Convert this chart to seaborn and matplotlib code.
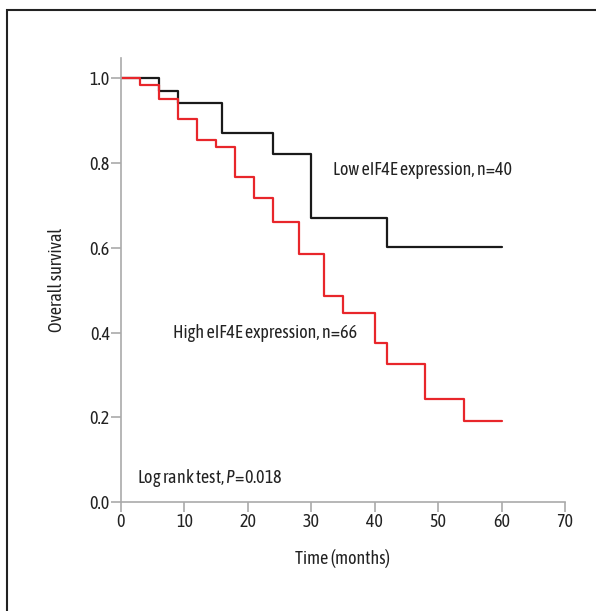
import pandas as pd
import matplotlib.pyplot as plt
import seaborn as sns
from matplotlib.patches import Rectangle

# Kaplan-Meier steps (time in months, survival)
low_time = [0, 6, 9, 16, 24, 30, 42, 60]
low_surv = [1.0, 0.970, 0.942, 0.871, 0.822, 0.669, 0.602, 0.602]

high_time = [0, 3, 6, 9, 12, 15, 18, 21, 24, 28, 32, 35, 40, 42, 48, 54, 60]
high_surv = [1.0, 0.983, 0.950, 0.903, 0.854, 0.838, 0.767, 0.716, 0.660,
             0.585, 0.487, 0.447, 0.376, 0.325, 0.243, 0.191, 0.191]

groups = ["Low", "High"]
x_ticks = [0, 10, 20, 30, 40, 50, 60, 70]
y_ticks = [0.0, 0.2, 0.4, 0.6, 0.8, 1.0]

df = pd.concat([
    pd.DataFrame({"time": low_time, "surv": low_surv, "group": groups[0]}),
    pd.DataFrame({"time": high_time, "surv": high_surv, "group": groups[1]}),
])

sns.set_theme(style="white")
plt.rcParams["font.family"] = ["Asap Condensed", "DejaVu Sans"]
plt.rcParams["mathtext.fontset"] = "custom"
plt.rcParams["mathtext.rm"] = "Asap Condensed"
plt.rcParams["mathtext.it"] = "Asap Condensed:italic"

txt = "#222222"
fs = 13

fig = plt.figure(figsize=(5.96, 6.11), dpi=100)
ax = fig.add_axes([0.203, 0.178, 0.745, 0.727])

sns.lineplot(data=df, x="time", y="surv", hue="group",
             palette={"Low": "#1a1a1a", "High": "#e8262b"},
             drawstyle="steps-post", estimator=None, sort=False,
             linewidth=1.6, legend=False, ax=ax)

ax.set_xlim(0, 70)
ax.set_ylim(0, 1.047)
ax.set_xticks(x_ticks)
ax.set_yticks(y_ticks)
ax.set_yticklabels([f"{v:.1f}" for v in y_ticks])

for side in ["top", "right"]:
    ax.spines[side].set_visible(False)
for side in ["left", "bottom"]:
    ax.spines[side].set_color("#aaaaaa")
    ax.spines[side].set_linewidth(1.2)
ax.tick_params(axis="both", direction="out", length=7, width=1.2,
               color="#aaaaaa", labelsize=fs, labelcolor=txt, pad=1)
ax.tick_params(axis="both", which="both", bottom=True, left=True)

ax.set_xlabel("Time (months)", fontsize=fs, color=txt, labelpad=13)
ax.set_ylabel("Overall survival", fontsize=fs, color=txt, labelpad=17)

ax.text(33.4, 0.783, "Low eIF4E expression, n=40", fontsize=fs,
        color=txt, va="center")
ax.text(8.2, 0.40, "High eIF4E expression, n=66", fontsize=fs,
        color=txt, va="center")
ax.text(2.5, 0.057, "Log rank test, $\\it{P}$=0.018", fontsize=fs,
        color=txt, va="center")

# frame around the figure panel
fig.patches.append(Rectangle((7 / 596, -0.1), 1.2, 1 - 10 / 611 + 0.1,
                             transform=fig.transFigure, fill=False,
                             edgecolor="#222222", linewidth=1.5))

fig.savefig("out.png", dpi=100)
